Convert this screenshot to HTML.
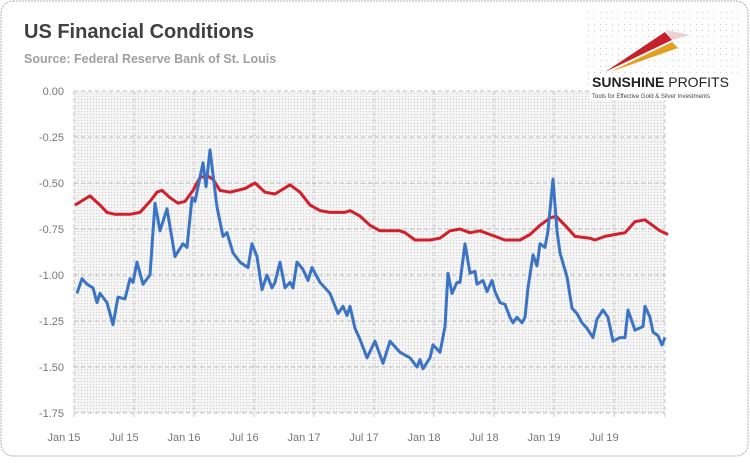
<!DOCTYPE html>
<html><head><meta charset="utf-8"><style>
body{margin:0;background:#fff;font-family:"Liberation Sans",sans-serif}
#wrap{position:relative;width:750px;height:458px}
</style></head><body>
<div id="wrap">
<svg id="chart" width="750" height="458" xmlns="http://www.w3.org/2000/svg">
<defs>
<pattern id="dots" width="3" height="3" patternUnits="userSpaceOnUse"><rect width="3" height="3" fill="#f5f5f5"/><rect width="1" height="1" fill="#cccccc"/></pattern>
<pattern id="dots2" width="6" height="6" patternUnits="userSpaceOnUse"><rect width="6" height="6" fill="#fff"/><rect width="1" height="1" fill="#ccc"/></pattern>
</defs>
<rect x="1" y="1" width="747" height="455" rx="12" fill="#fff" stroke="#b0b0b0" stroke-dasharray="2,1"/>
<text x="24" y="38" font-size="20" font-weight="bold" fill="#404040">US Financial Conditions</text>
<text x="24" y="63" font-size="12.5" font-weight="bold" fill="#a0a0a0">Source: Federal Reserve Bank of St. Louis</text>
<rect x="74" y="91" width="591" height="322" fill="url(#dots)"/>
<g id="grid"></g><g id="axes"></g><g id="series"></g>
<g>
<rect x="588" y="10" width="154" height="78" fill="url(#dots2)"/>
<polygon points="605,72 665,32 672,40" fill="#c8202a"/>
<polygon points="610,72 672,42 678,48" fill="#e3a020"/>
<polygon points="666,30 690,35 672,40" fill="#e9b0b0" opacity=".6"/>
<rect x="590" y="74" width="150" height="26" fill="#fff"/>
<text x="592" y="87" font-size="14" font-weight="bold" fill="#222">SUNSHINE <tspan font-weight="normal">PROFITS</tspan></text>
<text x="592" y="98" font-size="6" fill="#444">Tools for Effective Gold &amp; Silver Investments</text>
</g>
</svg>
</div>
<script>
const yTicks=[0,-0.25,-0.5,-0.75,-1,-1.25,-1.5,-1.75];
const yTickLabels=["0.00","-0.25","-0.50","-0.75","-1.00","-1.25","-1.50","-1.75"];
const xTicks=[0,6,12,18,24,30,36,42,48,54];
const xTickLabels=["Jan 15","Jul 15","Jan 16","Jul 16","Jan 17","Jul 17","Jan 18","Jul 18","Jan 19","Jul 19"];
const blueMonths=[0.3,0.8,1.3,1.9,2.3,2.6,3.3,3.9,4.4,5.1,5.6,5.9,6.3,6.9,7.6,8.1,8.6,9.3,10.1,10.9,11.3,11.8,12.1,12.9,13.2,13.6,14.3,14.9,15.3,15.9,16.6,17.4,17.8,18.3,18.8,19.3,19.8,20.1,20.6,21.1,21.6,21.9,22.3,22.9,23.4,23.8,24.6,25.6,26.4,26.9,27.3,27.6,28.1,28.6,29.3,30.1,30.9,31.6,32.6,33.6,34.3,34.6,34.9,35.6,35.9,36.6,37.1,37.4,37.8,38.3,38.6,39.1,39.6,40.1,40.3,40.9,41.3,41.8,42.1,42.6,43.1,43.6,43.9,44.3,44.8,45.1,45.4,45.9,46.3,46.6,47.1,47.4,47.9,48.3,48.6,49.3,49.8,50.3,50.8,51.3,51.9,52.3,52.9,53.4,53.9,54.6,55.1,55.4,56.1,56.9,57.1,57.6,57.9,58.4,58.8,59.1];
const blueValues=[-1.10,-1.02,-1.05,-1.07,-1.15,-1.10,-1.15,-1.27,-1.12,-1.13,-1.02,-1.04,-0.93,-1.05,-1.00,-0.61,-0.76,-0.64,-0.90,-0.83,-0.85,-0.58,-0.60,-0.39,-0.52,-0.32,-0.63,-0.79,-0.77,-0.88,-0.93,-0.96,-0.83,-0.90,-1.08,-1.00,-1.07,-1.04,-0.93,-1.07,-1.04,-1.07,-0.93,-0.97,-1.03,-0.96,-1.04,-1.10,-1.21,-1.17,-1.22,-1.17,-1.29,-1.35,-1.45,-1.36,-1.48,-1.36,-1.42,-1.45,-1.50,-1.46,-1.51,-1.45,-1.38,-1.42,-1.28,-0.99,-1.10,-1.04,-1.04,-0.83,-0.99,-0.98,-1.05,-1.03,-1.09,-1.03,-1.09,-1.15,-1.16,-1.23,-1.26,-1.23,-1.26,-1.23,-1.07,-0.89,-0.95,-0.83,-0.85,-0.76,-0.48,-0.76,-0.88,-1.01,-1.18,-1.21,-1.26,-1.29,-1.34,-1.24,-1.19,-1.23,-1.36,-1.34,-1.34,-1.19,-1.30,-1.28,-1.17,-1.23,-1.31,-1.33,-1.38,-1.34];
const redMonths=[0.1,1.6,2.6,3.3,4.1,5.6,6.6,7.6,8.3,8.8,9.6,10.4,11.1,11.9,12.6,13.3,13.9,14.6,15.6,17.1,18.1,19.1,20.1,21.6,22.6,23.6,24.6,25.6,27.1,27.6,28.6,29.6,30.6,32.6,33.1,34.1,35.6,36.6,37.6,38.6,39.6,40.6,41.6,43.1,44.6,45.6,46.6,47.6,48.2,49.1,50.1,51.6,52.1,53.1,54.1,55.1,56.1,57.1,58.6,59.4];
const redValues=[-0.62,-0.57,-0.62,-0.66,-0.67,-0.67,-0.66,-0.60,-0.55,-0.54,-0.58,-0.61,-0.60,-0.54,-0.47,-0.46,-0.48,-0.54,-0.55,-0.53,-0.50,-0.55,-0.56,-0.51,-0.55,-0.62,-0.65,-0.66,-0.66,-0.65,-0.68,-0.73,-0.76,-0.76,-0.77,-0.81,-0.81,-0.80,-0.76,-0.75,-0.77,-0.76,-0.78,-0.81,-0.81,-0.78,-0.73,-0.69,-0.68,-0.73,-0.79,-0.80,-0.81,-0.79,-0.78,-0.77,-0.71,-0.70,-0.76,-0.78];

const NS="http://www.w3.org/2000/svg";
const X0=74,X1=665,Y0=91,Y1=413,MMAX=59.1;
function xs(m){return X0+m*(X1-X0)/MMAX;}
function ys(v){return Y0+(-v)*(Y1-Y0)/1.75;}
function mk(tag,attrs,parent){const e=document.createElementNS(NS,tag);for(const k in attrs)e.setAttribute(k,attrs[k]);parent.appendChild(e);return e;}
const grid=document.getElementById('grid'),axes=document.getElementById('axes'),series=document.getElementById('series');
yTicks.forEach((v,i)=>{
  const l=mk('line',{x1:X0,x2:X1,y1:ys(v),y2:ys(v),stroke:'#bdbdbd','stroke-dasharray':'4,3','stroke-width':1},grid);
  
  
  const t=mk('text',{x:64,y:ys(v)+4,'text-anchor':'end','font-size':11,fill:'#777'},axes);
  t.textContent=yTickLabels[i];
  
  
});
xTicks.concat([MMAX]).forEach((m,i)=>{
  const l=mk('line',{x1:xs(m),x2:xs(m),y1:Y0,y2:Y1+5,stroke:'#c4c4c4','stroke-dasharray':'4,3','stroke-width':1},grid);
  
  
  if(i<xTickLabels.length){
    const t=mk('text',{x:xs(m)-10,y:441,'text-anchor':'middle','font-size':11,fill:'#777'},axes);
    t.textContent=xTickLabels[i];
    
    
  }
});
function path(ms,vs){return ms.map((m,i)=>(i?'L':'M')+xs(m).toFixed(1)+','+ys(vs[i]).toFixed(1)).join('');}
const r=mk('path',{d:path(redMonths,redValues),fill:'none',stroke:'#d21f2b','stroke-width':3,'stroke-linejoin':'round'},series);


const b=mk('path',{d:path(blueMonths,blueValues),fill:'none',stroke:'#3b74c6','stroke-width':3,'stroke-linejoin':'round'},series);


</script>
</body></html>
